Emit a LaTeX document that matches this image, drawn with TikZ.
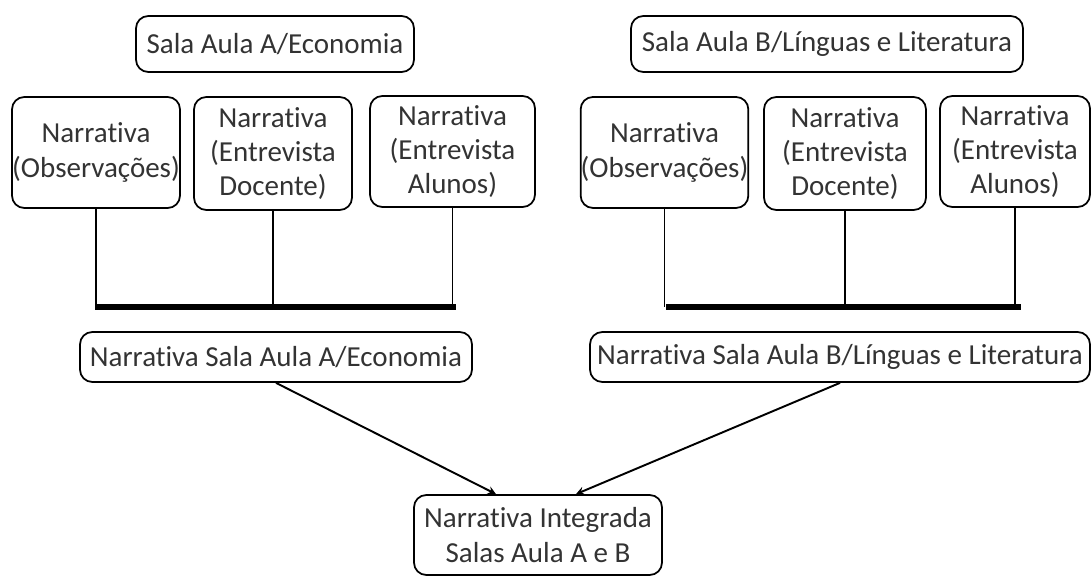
\documentclass[tikz,border=0pt]{standalone}
\usepackage{fontspec}
\setmainfont{Carlito}[Ligatures=NoCommon]
\usepackage{tikz}
\usetikzlibrary{calc,arrows}

\begin{document}
\begin{tikzpicture}[>=stealth,
  caixa/.style={draw,line width=1pt,rounded corners=7pt,align=center,inner sep=0pt,
    text=black!80,font=\fontsize{16.5}{19.6}\selectfont},
  ramo/.style={line width=1.1pt},
  barra/.style={line width=3.8pt},
  seta/.style={->,line width=1.1pt}]
  \useasboundingbox (0,0) rectangle (21.84,11.52);

  % salas de aula
  \node[caixa,minimum width=5.56cm,minimum height=1.12cm] (salaA) at (5.5,10.64) {Sala Aula A/Economia};
  \node[caixa,minimum width=7.84cm,minimum height=1.12cm] (salaB) at (16.54,10.64) {Sala Aula B/Línguas e Literatura};

  % narrativas da sala A
  \node[caixa,minimum width=3.36cm,minimum height=2.22cm] (obsA) at (1.92,8.47) {Narrativa\\(Observações)};
  \node[caixa,minimum width=3.16cm,minimum height=2.26cm] (docA) at (5.46,8.45) {Narrativa\\(Entrevista\\Docente)};
  \node[caixa,minimum width=3.30cm,minimum height=2.22cm] (aluA) at (9.05,8.49) {Narrativa\\(Entrevista\\Alunos)};

  % narrativas da sala B
  \node[caixa,minimum width=3.34cm,minimum height=2.22cm] (obsB) at (13.29,8.47) {Narrativa\\(Observações)};
  \node[caixa,minimum width=3.24cm,minimum height=2.26cm] (docB) at (16.9,8.45) {Narrativa\\(Entrevista\\Docente)};
  \node[caixa,minimum width=3.0cm,minimum height=2.22cm] (aluB) at (20.3,8.49) {Narrativa\\(Entrevista\\Alunos)};

  % barras de juncao
  \coordinate (barA1) at (1.9,5.38);
  \coordinate (barA2) at (9.12,5.38);
  \coordinate (barB1) at (13.32,5.38);
  \coordinate (barB2) at (20.42,5.38);
  \draw[barra] (barA1) -- (barA2);
  \draw[barra] (barB1) -- (barB2);
  \foreach \n in {obsA,docA,aluA}
    \draw[ramo] (\n.south) -- (\n.south |- barA1);
  \foreach \n in {obsB,docB,aluB}
    \draw[ramo] (\n.south) -- (\n.south |- barB1);

  % narrativas por sala
  \node[caixa,minimum width=7.84cm,minimum height=1.0cm] (narrA) at (5.52,4.38) {Narrativa Sala Aula A/Economia};
  \node[caixa,minimum width=10.0cm,minimum height=1.0cm] (narrB) at (16.8,4.38) {Narrativa Sala Aula B/Línguas e Literatura};

  % narrativa integrada
  \node[caixa,minimum width=4.96cm,minimum height=1.6cm] (integ) at (10.76,0.82) {Narrativa Integrada\\Salas Aula A e B};

  \draw[seta] (narrA.south) -- ([xshift=-0.84cm]integ.north);
  \draw[seta] (narrB.south) -- ([xshift=0.76cm]integ.north);
\end{tikzpicture}
\end{document}
